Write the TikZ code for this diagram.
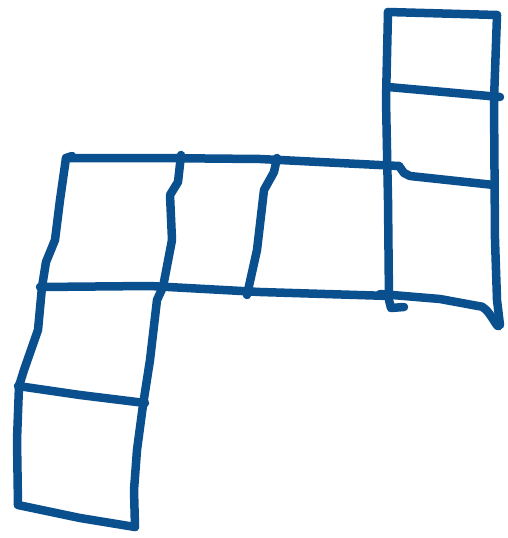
\documentclass[tikz,border=0pt]{standalone}
\definecolor{ink}{RGB}{10,79,142}
\begin{document}
\begin{tikzpicture}[x=1pt,y=-1pt,
  stroke/.style={draw=ink,line width=8.5pt,line cap=round,line join=round}]
\useasboundingbox (0,0) rectangle (508,538);
% right column
\coordinate (r1) at (388,12);
\coordinate (r2) at (497,15);
\draw[stroke] (r1) -- (r2);
\draw[stroke] (r1) -- (386,100) -- (388,200) -- (389,300) -- (391,308) -- (404,307);
\draw[stroke] (r2) -- (494,100) -- (495,240) -- (497,300) -- (500,325);
\draw[stroke] (388,87) -- (500,97);
\draw[stroke] (399,166) -- (404,173) -- (410,176) -- (494,185);
\draw[stroke] (380,294) -- (440,299) -- (478,306) to[out=10,in=-90] (499,324);
% middle row
\draw[stroke] (72,156) -- (66,158) -- (150,158) -- (260,159) -- (399,166);
\draw[stroke] (40,287) -- (150,286) -- (260,292) -- (390,296);
\draw[stroke] (66,158) -- (60,200) -- (55,240) -- (46,262) -- (42,287);
\draw[stroke] (181,155) -- (178,182) -- (170,195) -- (172,240) -- (163,287);
\draw[stroke] (277,158) -- (274,172) -- (264,190) -- (257,250) -- (247,295);
% lower left column
\draw[stroke] (42,287) -- (38,330) -- (24,370) -- (19,386) -- (17,440) -- (18,505);
\draw[stroke] (163,287) -- (157,300) -- (150,360) -- (143,405) -- (137,450) -- (134,490) -- (135,527);
\draw[stroke] (18,386) -- (80,395) -- (145,403);
\draw[stroke] (18,505) -- (80,518) -- (135,527);
\end{tikzpicture}
\end{document}
